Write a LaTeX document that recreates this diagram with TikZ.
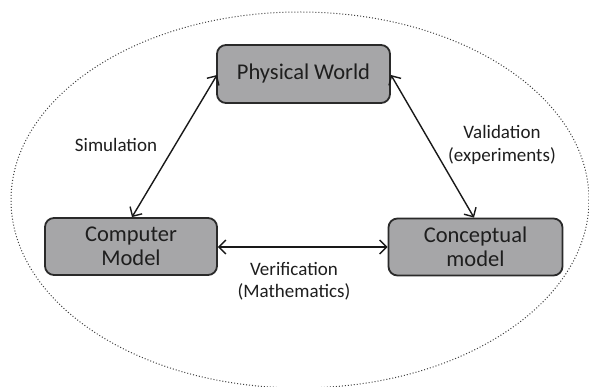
\documentclass[tikz,border=0pt]{standalone}
\usepackage{fontspec}
\setmainfont{Carlito}
\usetikzlibrary{arrows.meta}
\definecolor{boxfill}{HTML}{A6A6A8}
\definecolor{boxline}{HTML}{2A2A2A}
\definecolor{txt}{HTML}{1E1E1E}
\tikzset{
  box/.style={draw=boxline, line width=1.8pt, fill=boxfill, rounded corners=9pt,
    minimum width=#1, text=txt, font=\fontsize{22.5}{24}\selectfont, align=center, inner sep=0pt},
  lbl/.style={text=txt, font=\fontsize{19}{22.5}\selectfont, align=center, inner sep=0pt},
  conn/.style={draw=black!90, line width=1.4pt, {Straight Barb[length=7pt,width=14pt,line width=1.4pt]}-{Straight Barb[length=7pt,width=14pt,line width=1.4pt]}}
}
\begin{document}
\begin{tikzpicture}[x=1pt,y=-1pt]
\useasboundingbox (0,0) rectangle (589,387);
\fill[white] (0,0) rectangle (589,387);
\draw[black!75, dotted, line width=1pt] (300,200) ellipse [x radius=289, y radius=188];
\node[box=173pt, minimum height=58pt] (pw) at (303.5,74) {Physical World};
\node[box=172pt, minimum height=57pt] (cm) at (131,246.5) {Computer\\Model};
\node[box=174pt, minimum height=57pt] (cp) at (475.5,247) {Conceptual\\model};
\coordinate (pwl) at (217,75);
\coordinate (pwr) at (391,75);
\draw[conn] (pwl) -- (cm.north -| 132,0);
\draw[conn] (pwr) -- (cp.north -| 474,0);
\draw[conn] (cm.east |- 0,247) -- (cp.west |- 0,247);
\node[lbl] (sim) at (116,145) {Simulation};
\node[lbl] (val) at (502,145) {Validation\\(experiments)};
\node[lbl] (ver) at (294,281) {Verification\\(Mathematics)};
\end{tikzpicture}
\end{document}
